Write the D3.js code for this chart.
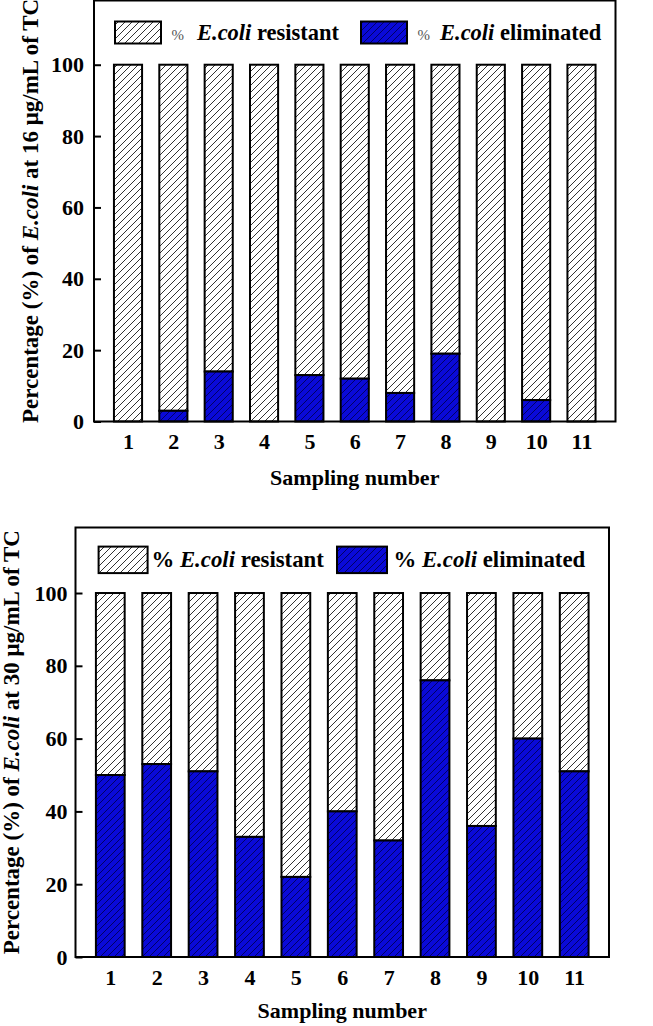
<!DOCTYPE html>
<html><head><meta charset="utf-8">
<script src="https://cdn.jsdelivr.net/npm/d3@7"></script>
<style>
body{margin:0;background:#fff;}
svg{display:block;}
text{font-family:"Liberation Serif","Times New Roman",serif;}
</style></head>
<body>
<script>
const samples = [1,2,3,4,5,6,7,8,9,10,11];
const elim16   = [0,3,14,0,13,12,8,19,0,6,0];
const resist16 = [100,97,86,100,87,88,92,81,100,94,100];
const elim30   = [50,53,51,33,22,40,32,76,36,60,51];
const resist30 = [50,47,49,67,78,60,68,24,64,40,49];
const yTicks = [0,20,40,60,80,100];
const xLabel = "Sampling number";

const W = 653, H = 1026;
const svg = d3.select("body").append("svg").attr("width", W).attr("height", H);
const defs = svg.append("defs");

function hatch(id, bg, lineColor){
  const p = defs.append("pattern").attr("id", id).attr("patternUnits","userSpaceOnUse")
    .attr("width", 7).attr("height", 7);
  p.append("rect").attr("width",7).attr("height",7).attr("fill",bg);
  p.append("path").attr("d","M0,7 L7,0 M-1,1 L1,-1 M6,8 L8,6")
    .attr("stroke", lineColor).attr("stroke-width", 1).attr("fill","none");
}
hatch("hWhite", "#ffffff", "#333");
hatch("hBlue", "#0a0ad8", "#000066");

function drawChart(cfg){
  const g = svg.append("g");
  const x = d3.scaleLinear().domain([0.25, 11.75]).range([cfg.left, cfg.right]);
  const y = d3.scaleLinear().domain([0, 118]).range([cfg.bottom, cfg.top]);
  const bw = (x(2) - x(1)) * 0.62;

  samples.forEach((s, i) => {
    const e = cfg.elim[i], r = cfg.resist[i];
    g.append("rect").attr("x", x(s) - bw/2).attr("y", y(e + r))
      .attr("width", bw).attr("height", y(e) - y(e + r))
      .attr("fill", "url(#hWhite)").attr("stroke", "#000").attr("stroke-width", 2);
    if (e > 0) {
      g.append("rect").attr("x", x(s) - bw/2).attr("y", y(e))
        .attr("width", bw).attr("height", y(0) - y(e))
        .attr("fill", "url(#hBlue)").attr("stroke", "#000").attr("stroke-width", 2);
    }
  });

  g.append("rect").attr("x", cfg.left).attr("y", cfg.top)
    .attr("width", cfg.right - cfg.left).attr("height", cfg.bottom - cfg.top)
    .attr("fill", "none").attr("stroke", "#000").attr("stroke-width", 2);

  const ya = g.append("g").attr("transform", `translate(${cfg.left},0)`)
    .call(d3.axisLeft(y).tickValues(yTicks).tickSizeInner(-7).tickSizeOuter(0).tickPadding(cfg.yPad));
  ya.select(".domain").remove();
  ya.selectAll("line").attr("stroke","#000").attr("stroke-width",2);
  ya.selectAll("text").attr("font-size", 22).attr("font-weight","bold")
    .attr("font-family",'"Liberation Serif",serif').attr("fill","#000");

  const xa = g.append("g").attr("transform", `translate(0,${cfg.bottom})`)
    .call(d3.axisBottom(x).tickValues(samples).tickSize(0).tickPadding(12).tickFormat(d3.format("d")));
  xa.select(".domain").remove();
  xa.selectAll("text").attr("font-size", 22).attr("font-weight","bold")
    .attr("font-family",'"Liberation Serif",serif').attr("fill","#000");

  g.append("text").attr("x", (cfg.left + cfg.right)/2).attr("y", cfg.bottom + cfg.xTitleDy)
    .attr("text-anchor","middle").attr("font-size",22).attr("font-weight","bold").text(xLabel);

  const yt = g.append("text")
    .attr("transform", `translate(${cfg.yTitleX},${(cfg.top + cfg.bottom)/2}) rotate(-90)`)
    .attr("text-anchor","middle").attr("font-size",23).attr("font-weight","bold");
  yt.append("tspan").text("Percentage (%) of ");
  yt.append("tspan").attr("font-style","italic").text("E.coli");
  yt.append("tspan").text(` at ${cfg.dose} μg/mL of TC`);

  cfg.legend.forEach(L => {
    g.append("rect").attr("x", L.x).attr("y", L.y).attr("width", L.w).attr("height", L.h)
      .attr("fill", L.fill).attr("stroke","#000").attr("stroke-width",2);
    if (cfg.sansPct) {
      g.append("text").attr("x", L.tx).attr("y", L.base)
        .attr("font-family",'"Liberation Sans",Arial,sans-serif').attr("font-size",15)
        .attr("fill","#555").text("%");
      const t = g.append("text").attr("x", L.tx2).attr("y", L.base).attr("font-size",22.5).attr("font-weight","bold");
      t.append("tspan").attr("font-style","italic").text("E.coli");
      t.append("tspan").text(" " + L.label);
    } else {
      const t = g.append("text").attr("x", L.tx).attr("y", L.base).attr("font-size",22.8).attr("font-weight","bold");
      t.append("tspan").text("% ");
      t.append("tspan").attr("font-style","italic").text("E.coli");
      t.append("tspan").text(" " + L.label);
    }
  });
}

drawChart({
  left: 94, right: 615.5, top: 0.5, bottom: 421.5,
  elim: elim16, resist: resist16, dose: 16, yPad: 10,
  xTitleDy: 63.5, yTitleX: 38, sansPct: true,
  legend: [
    {x:115, y:21.5, w:46, h:22, fill:"url(#hWhite)", tx:171.5, tx2:197, base:39.5, label:"resistant"},
    {x:361, y:21.5, w:46, h:22, fill:"url(#hBlue)", tx:417.5, tx2:440, base:39.5, label:"eliminated"}
  ]
});

drawChart({
  left: 75.5, right: 609, top: 527.5, bottom: 957,
  elim: elim30, resist: resist30, dose: 30, yPad: 8,
  xTitleDy: 61, yTitleX: 19, sansPct: false,
  legend: [
    {x:98.6, y:546.6, w:49, h:26.5, fill:"url(#hWhite)", tx:151.4, base:567, label:"resistant"},
    {x:337, y:546.6, w:50, h:26.5, fill:"url(#hBlue)", tx:393.4, base:567, label:"eliminated"}
  ]
});
</script>
</body></html>
